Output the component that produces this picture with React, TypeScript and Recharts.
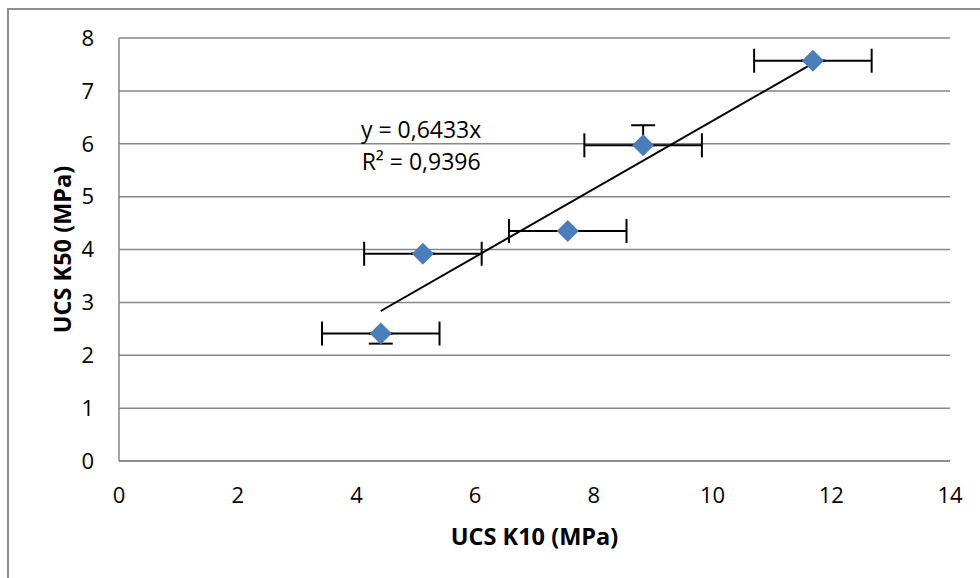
import React from "react";
import {
  ScatterChart,
  Scatter,
  XAxis,
  YAxis,
  CartesianGrid,
  ErrorBar,
  ReferenceDot,
} from "recharts";

// UCS K10 vs UCS K50 (MPa)
const k10 = [4.41, 5.12, 7.56, 8.83, 11.69];
const k50 = [2.41, 3.92, 4.35, 5.97, 7.57];
const k10Err = [0.99, 0.99, 0.99, 0.99, 0.99];
const k50Err: [number, number][] = [
  [0.19, 0],
  [0, 0],
  [0, 0],
  [0, 0.38],
  [0, 0],
];
const slope = 0.6433;
const r2 = 0.9396;
const xTicks = [0, 2, 4, 6, 8, 10, 12, 14];
const yTicks = [0, 1, 2, 3, 4, 5, 6, 7, 8];

const points = k10.map((x, i) => ({
  x,
  y: k50[i],
  ex: k10Err[i],
  ey: k50Err[i],
}));

const trendX = [Math.min(...k10), Math.max(...k10)];
const trend = trendX.map((x) => ({ x, y: slope * x }));

const font = "'Open Sans', sans-serif";
const fmt = (v: number) => v.toString().replace(".", ",");

const Diamond = (props: any) => {
  const { cx, cy } = props;
  const s = 11;
  return (
    <polygon
      points={`${cx},${cy - s} ${cx + s},${cy} ${cx},${cy + s} ${cx - s},${cy}`}
      fill="#4a7ebb"
    />
  );
};

const App: React.FC = () => {
  return (
    <div style={{ position: "absolute", left: 0, top: 0, width: 980, height: 578, background: "#fff", overflow: "hidden" }}>
      <style>{`body{margin:0;overflow:hidden}`}</style>
      <div
        style={{
          position: "absolute",
          left: 7,
          top: 8,
          width: 1100,
          height: 700,
          borderLeft: "2px solid #8e8e8e",
          borderTop: "2px solid #8e8e8e",
        }}
      />
      <div style={{ position: "absolute", left: 0, top: 0 }}>
        <ScatterChart
          width={980}
          height={578}
          margin={{ top: 38, right: 30, bottom: 0, left: 0 }}
          style={{ fontFamily: font }}
        >
          <CartesianGrid vertical={false} stroke="#868686" strokeWidth={1.5} />
          <XAxis
            type="number"
            dataKey="x"
            domain={[0, 14]}
            ticks={xTicks}
            height={117}
            tickLine={false}
            tickSize={0}
            tickMargin={26}
            axisLine={{ stroke: "#868686", strokeWidth: 1.5 }}
            tick={{ fill: "#000", fontSize: 22, fontFamily: font }}
            label={{
              content: (p: any) => {
                const vb = p.viewBox;
                return (
                  <text
                    x={vb.x + vb.width / 2}
                    y={536}
                    textAnchor="middle"
                    dominantBaseline="central"
                    fontSize={23.5}
                    fontWeight="bold"
                    fontFamily={font}
                    fill="#000"
                  >
                    UCS K10 (MPa)
                  </text>
                );
              },
            }}
          />
          <YAxis
            type="number"
            dataKey="y"
            domain={[0, 8]}
            ticks={yTicks}
            width={119}
            tickLine={false}
            tickSize={0}
            tickMargin={25}
            axisLine={{ stroke: "#868686", strokeWidth: 1.5 }}
            tick={{ fill: "#000", fontSize: 22, fontFamily: font }}
            label={{
              content: (p: any) => {
                const vb = p.viewBox;
                const cx = 62;
                const cy = vb.y + vb.height / 2;
                return (
                  <text
                    x={cx}
                    y={cy}
                    textAnchor="middle"
                    dominantBaseline="central"
                    transform={`rotate(-90, ${cx}, ${cy})`}
                    fontSize={23.5}
                    fontWeight="bold"
                    fontFamily={font}
                    fill="#000"
                  >
                    UCS K50 (MPa)
                  </text>
                );
              },
            }}
          />
          <Scatter
            data={trend}
            line={{ stroke: "#000", strokeWidth: 2 }}
            shape={() => null}
            isAnimationActive={false}
          />
          <Scatter data={points} shape={() => null} isAnimationActive={false}>
            <ErrorBar dataKey="ex" direction="x" width={12} stroke="#000" strokeWidth={2} />
            <ErrorBar dataKey="ey" direction="y" width={12} stroke="#000" strokeWidth={2} />
          </Scatter>
          <Scatter
            data={points}
            shape={<Diamond />}
            isAnimationActive={false}
            {...({ zIndex: 2000 } as any)}
          />
          <ReferenceDot
            x={5.09}
            y={5.95}
            r={0}
            label={{
              content: (p: any) => {
                const vb = p.viewBox;
                const cx = vb.x + (vb.width || 0) / 2;
                const cy = vb.y + (vb.height || 0) / 2;
                return (
                  <text textAnchor="middle" fontSize={23} fontFamily={font} fill="#000">
                    <tspan x={cx} y={cy - 8}>{`y = ${fmt(slope)}x`}</tspan>
                    <tspan x={cx} y={cy + 24}>{`R² = ${fmt(r2)}`}</tspan>
                  </text>
                );
              },
            }}
          />
        </ScatterChart>
      </div>
    </div>
  );
};

export default App;
